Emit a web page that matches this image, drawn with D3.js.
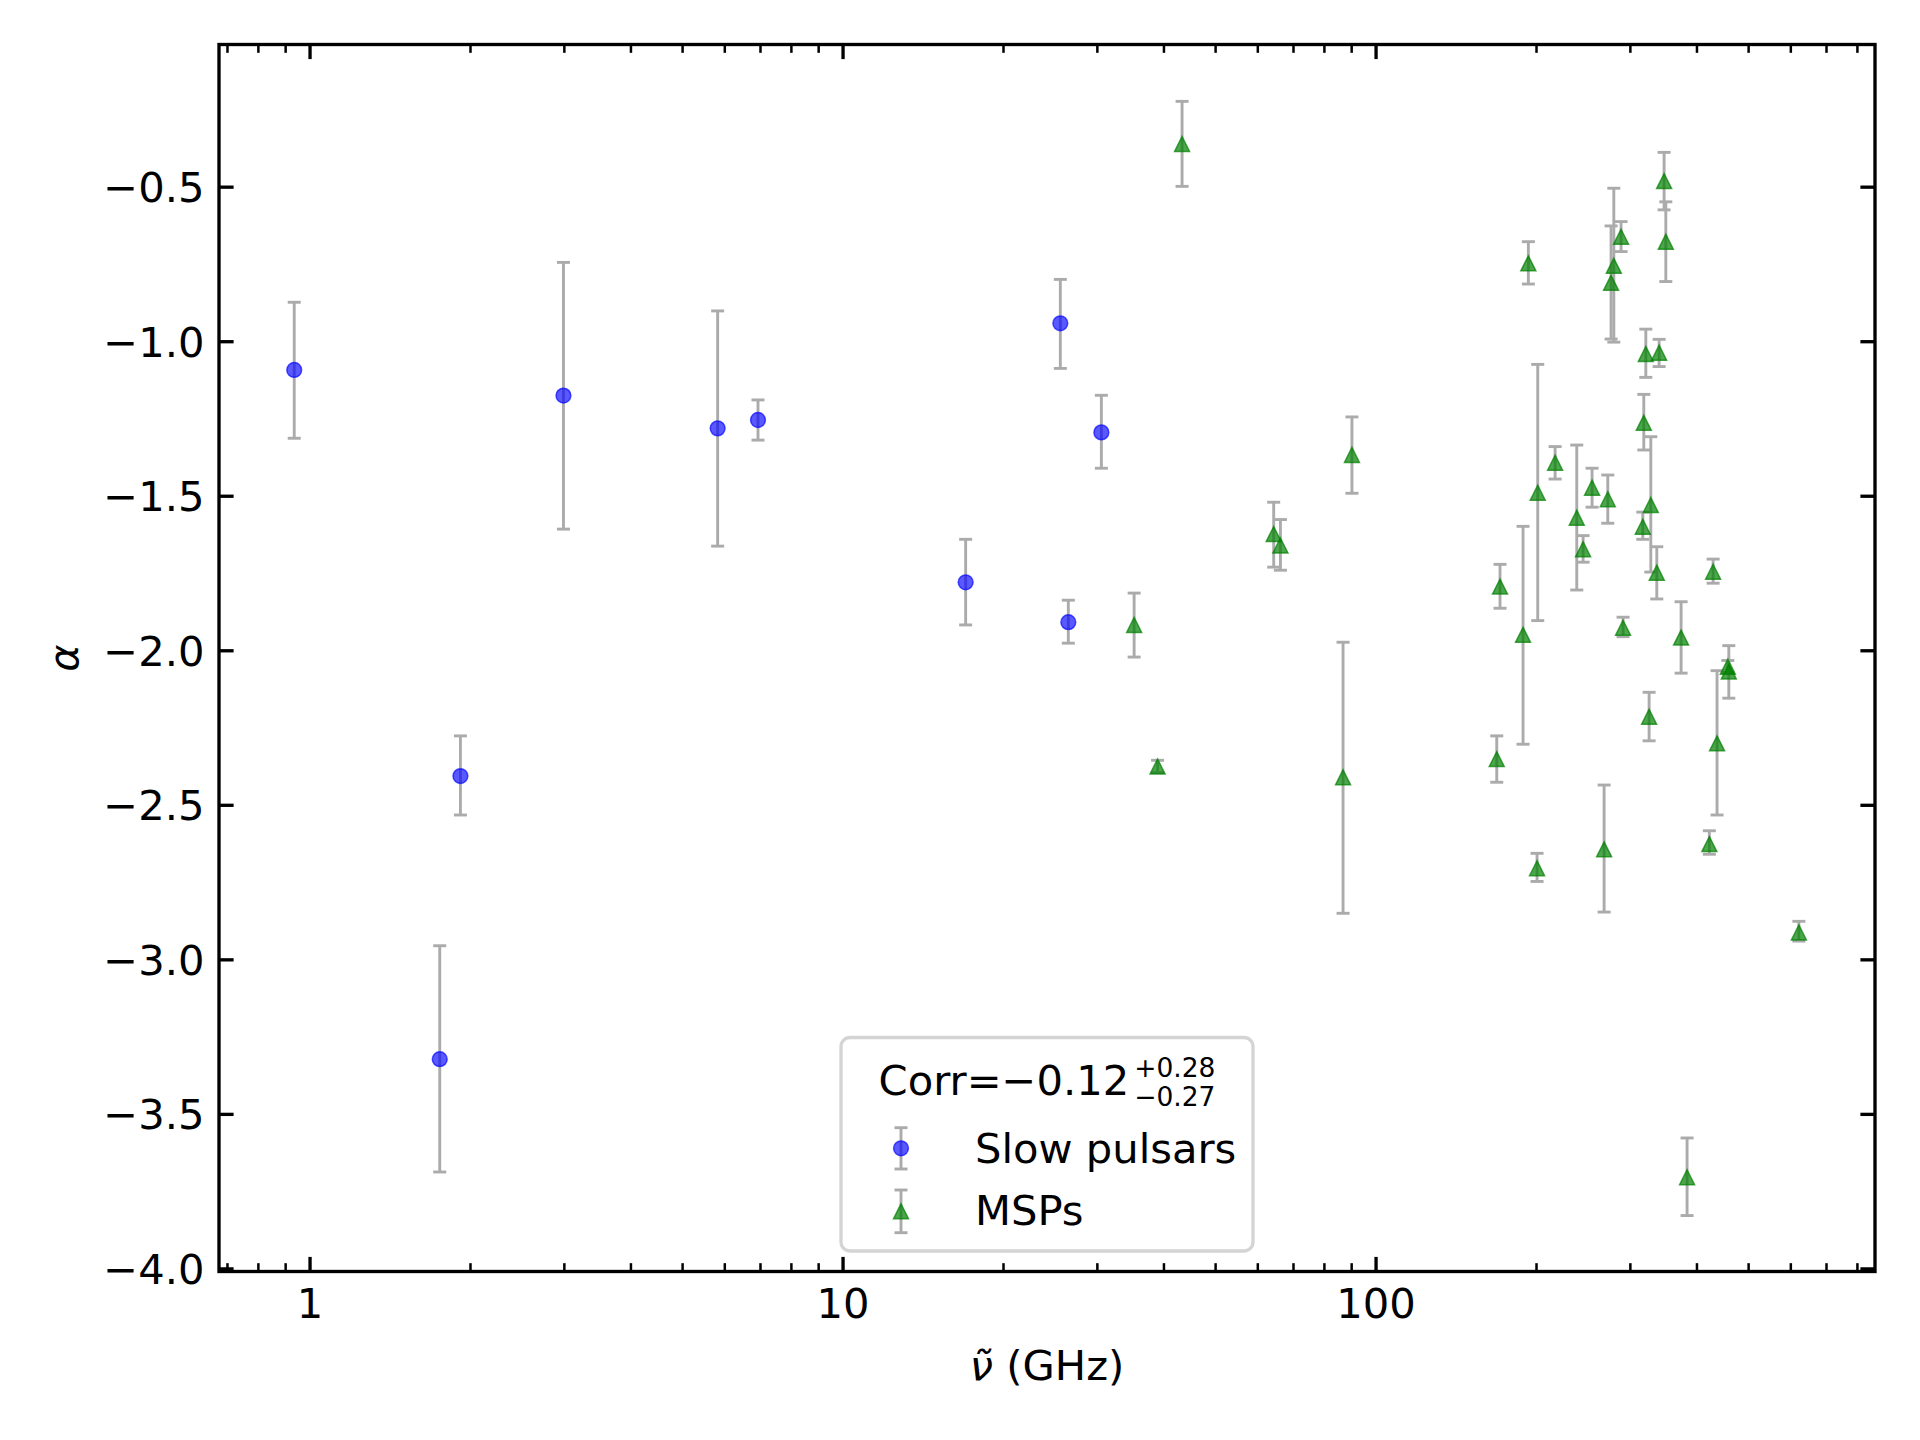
<!DOCTYPE html>
<html><head><meta charset="utf-8">
<script src="https://cdn.jsdelivr.net/npm/d3@7"></script>
<style>
body{margin:0;background:#fff}
svg{display:block}
text{font-family:"DejaVu Sans",sans-serif}
</style>
</head><body>
<svg id="chart" width="1920" height="1440"></svg>
<script>
// ---------------- data ----------------
const slowFreq   = [0.936, 1.755, 1.919, 2.995, 5.83, 6.94, 17.02, 25.62, 26.52, 30.59];
const slowAlpha  = [-1.093, -3.323, -2.407, -1.176, -1.282, -1.255, -1.780, -0.942, -1.909, -1.295];
const slowErrUp  = [0.219, 0.367, 0.130, 0.431, 0.380, 0.065, 0.139, 0.142, 0.071, 0.120];
const slowErrDn  = [0.221, 0.365, 0.126, 0.432, 0.381, 0.065, 0.138, 0.146, 0.068, 0.116];

const mspFreq  = [43.35, 35.24, 39.0, 64.4, 66.3, 86.9, 90.3, 193.5, 347.8, 350.4, 288.8, 279.9, 276.6, 321.4, 340.4, 318.6, 328.4, 317.2, 217.2, 201.5, 238.5, 254.8, 272.7, 245.1, 337.0, 171.2, 189.1, 291.3, 374.3, 429.8, 458, 460, 437.2, 326.0, 168.8, 422.9, 200.9, 268.4, 622.6, 384.1];
const mspAlpha = [-0.362, -1.918, -2.376, -1.624, -1.661, -2.411, -1.368, -0.748, -0.482, -0.678, -0.662, -0.756, -0.811, -1.041, -1.037, -1.264, -1.530, -1.600, -1.393, -1.490, -1.571, -1.474, -1.511, -1.673, -1.749, -1.794, -1.950, -1.927, -1.959, -1.746, -2.053, -2.069, -2.301, -2.215, -2.352, -2.627, -2.705, -2.644, -2.913, -3.705];
const mspErrUp = [0.138, 0.103, 0.020, 0.103, 0.084, 0.437, 0.123, 0.070, 0.093, 0.129, 0.049, 0.251, 0.184, 0.080, 0.043, 0.092, 0.221, 0.047, 0.052, 0.415, 0.235, 0.063, 0.078, 0.044, 0.084, 0.072, 0.351, 0.034, 0.116, 0.041, 0.020, 0.084, 0.235, 0.079, 0.075, 0.043, 0.048, 0.208, 0.036, 0.127];
const mspErrDn = [0.137, 0.104, 0.020, 0.107, 0.080, 0.440, 0.124, 0.067, 0.093, 0.129, 0.048, 0.247, 0.182, 0.076, 0.045, 0.088, 0.217, 0.041, 0.053, 0.414, 0.234, 0.063, 0.078, 0.042, 0.085, 0.070, 0.354, 0.029, 0.115, 0.037, 0.019, 0.086, 0.232, 0.078, 0.075, 0.033, 0.043, 0.203, 0.028, 0.124];

const seriesNames = ["Slow pulsars", "MSPs"];
const xTicks = [1, 10, 100];
const xTickLabels = ["1", "10", "100"];
const xMinorTicks = [0.7, 0.8, 0.9, 2, 3, 4, 5, 6, 7, 8, 9, 20, 30, 40, 50, 60, 70, 80, 90, 200, 300, 400, 500, 600, 700, 800];
const yTicks = [-4.0, -3.5, -3.0, -2.5, -2.0, -1.5, -1.0, -0.5];
const xLimits = [0.6763, 865.0];
const yLimits = [-4.01, -0.04];
const corrMain = "Corr=\u22120.12", corrSup = "+0.28", corrSub = "\u22120.27";

// ---------------- layout ----------------
const L = 219, R = 1875, T = 44.5, B = 1271.5;
const FS = 41.67;
const MAJ = 14.6, MIN = 8.33, MAJW = 3.33, MINW = 2.5;

const svg = d3.select("#chart");
svg.append("rect").attr("width", 1920).attr("height", 1440).attr("fill", "#fff");

const x = d3.scaleLog().domain(xLimits).range([L, R]);
const y = d3.scaleLinear().domain(yLimits).range([B, T]);

function styleAxis(g, w, labels) {
  g.attr("font-family", null).attr("font-size", null);
  g.select(".domain").remove();
  g.selectAll(".tick line").attr("stroke", "#000").attr("stroke-width", w);
  g.selectAll(".tick text").attr("fill", "#000").style("font-size", FS + "px")
    .style("font-family", '"DejaVu Sans", sans-serif');
  if (!labels) g.selectAll(".tick text").remove();
}

// bottom
svg.append("g").attr("transform", `translate(0,${B})`)
  .call(d3.axisBottom(x).tickValues(xMinorTicks).tickFormat("").tickSizeInner(-MIN).tickSizeOuter(0))
  .call(g => styleAxis(g, MINW, false));
const bx = svg.append("g").attr("transform", `translate(0,${B})`)
  .call(d3.axisBottom(x).tickValues(xTicks).tickFormat((d, i) => xTickLabels[i]).tickSizeInner(-MAJ).tickSizeOuter(0).tickPadding(MAJ))
  .call(g => styleAxis(g, MAJW, true));
bx.selectAll(".tick text").attr("dy", "0.77em");
// top
svg.append("g").attr("transform", `translate(0,${T})`)
  .call(d3.axisTop(x).tickValues(xMinorTicks).tickFormat("").tickSizeInner(-MIN).tickSizeOuter(0))
  .call(g => styleAxis(g, MINW, false));
svg.append("g").attr("transform", `translate(0,${T})`)
  .call(d3.axisTop(x).tickValues(xTicks).tickFormat("").tickSizeInner(-MAJ).tickSizeOuter(0))
  .call(g => styleAxis(g, MAJW, false));
// left
const ly = svg.append("g").attr("transform", `translate(${L},0)`)
  .call(d3.axisLeft(y).tickValues(yTicks).tickFormat(d3.format(".1f")).tickSizeInner(-MAJ).tickSizeOuter(0).tickPadding(MAJ))
  .call(g => styleAxis(g, MAJW, true));
ly.selectAll(".tick text").attr("dy", "0.36em");
// right
svg.append("g").attr("transform", `translate(${R},0)`)
  .call(d3.axisRight(y).tickValues(yTicks).tickFormat("").tickSizeInner(-MAJ).tickSizeOuter(0))
  .call(g => styleAxis(g, MAJW, false));

// frame
svg.append("rect").attr("x", L).attr("y", T).attr("width", R - L).attr("height", B - T)
  .attr("fill", "none").attr("stroke", "#000").attr("stroke-width", MAJW);

// axis labels
svg.append("text").attr("transform", `translate(78,${(T + B) / 2}) rotate(-90)`)
  .attr("text-anchor", "middle").style("font-size", FS + "px").style("font-style", "italic").text("\u03b1");
const xl = svg.append("text").attr("x", (L + R) / 2).attr("y", 1380).attr("text-anchor", "middle").style("font-size", FS + "px");
xl.append("tspan").style("font-style", "italic").text("\u03bd\u0303");
xl.append("tspan").text(" (GHz)");

// ---------------- marks ----------------
const ERR = "#ababab", EW = 2.9, CAP = 6.5;
const plot = svg.append("g");
function errorbars(g, fx, fy, up, dn) {
  const d = fx.map((f, i) => ({ x: x(f), y1: y(fy[i] + up[i]), y2: y(fy[i] - dn[i]) }));
  const eg = g.append("g").attr("stroke", ERR).attr("stroke-width", EW);
  eg.selectAll(".v").data(d).join("line").attr("x1", e => e.x).attr("x2", e => e.x).attr("y1", e => e.y1).attr("y2", e => e.y2);
  eg.selectAll(".c1").data(d).join("line").attr("x1", e => e.x - CAP).attr("x2", e => e.x + CAP).attr("y1", e => e.y1).attr("y2", e => e.y1);
  eg.selectAll(".c2").data(d).join("line").attr("x1", e => e.x - CAP).attr("x2", e => e.x + CAP).attr("y1", e => e.y2).attr("y2", e => e.y2);
}
const TRI = "M0,-7.5L7.5,7.5L-7.5,7.5Z";

errorbars(plot, slowFreq, slowAlpha, slowErrUp, slowErrDn);
plot.append("g").selectAll("circle").data(slowFreq).join("circle")
  .attr("cx", d => x(d)).attr("cy", (d, i) => y(slowAlpha[i])).attr("r", 7.4)
  .attr("fill", "blue").attr("fill-opacity", 0.65)
  .attr("stroke", "blue").attr("stroke-opacity", 0.65).attr("stroke-width", 1.5);

errorbars(plot, mspFreq, mspAlpha, mspErrUp, mspErrDn);
plot.append("g").selectAll("path").data(mspFreq).join("path")
  .attr("transform", (d, i) => `translate(${x(d)},${y(mspAlpha[i])})`).attr("d", TRI)
  .attr("fill", "green").attr("fill-opacity", 0.7)
  .attr("stroke", "green").attr("stroke-opacity", 0.7).attr("stroke-width", 1.5);

// ---------------- legend ----------------
const lg = svg.append("g");
lg.append("rect").attr("x", 841).attr("y", 1037.5).attr("width", 412).attr("height", 213.5).attr("rx", 9)
  .attr("fill", "#fff").attr("fill-opacity", 0.8).attr("stroke", "#d4d4d4").attr("stroke-width", 3.3);
const t1 = lg.append("text").attr("x", 878.6).attr("y", 1095).style("font-size", FS + "px").text(corrMain);
const w1 = t1.node().getComputedTextLength();
const SFS = 26.5;
lg.append("text").attr("x", 878.6 + w1 + 5).attr("y", 1077).style("font-size", SFS + "px").text(corrSup);
lg.append("text").attr("x", 878.6 + w1 + 5).attr("y", 1106).style("font-size", SFS + "px").text(corrSub);

function legendBar(cy, top, bot) {
  const g = lg.append("g").attr("stroke", ERR).attr("stroke-width", EW);
  g.append("line").attr("x1", 901).attr("x2", 901).attr("y1", top).attr("y2", bot);
  g.append("line").attr("x1", 901 - CAP).attr("x2", 901 + CAP).attr("y1", top).attr("y2", top);
  g.append("line").attr("x1", 901 - CAP).attr("x2", 901 + CAP).attr("y1", bot).attr("y2", bot);
}
legendBar(1148.3, 1127.7, 1169);
lg.append("circle").attr("cx", 901).attr("cy", 1148.3).attr("r", 7.4)
  .attr("fill", "blue").attr("fill-opacity", 0.65).attr("stroke", "blue").attr("stroke-opacity", 0.65).attr("stroke-width", 1.5);
legendBar(1211.3, 1190, 1232.7);
lg.append("path").attr("transform", "translate(901,1211.3)").attr("d", TRI)
  .attr("fill", "green").attr("fill-opacity", 0.7).attr("stroke", "green").attr("stroke-opacity", 0.7).attr("stroke-width", 1.5);
lg.append("text").attr("x", 975).attr("y", 1163.3).style("font-size", FS + "px").text(seriesNames[0]);
lg.append("text").attr("x", 975).attr("y", 1225).style("font-size", FS + "px").text(seriesNames[1]);
</script>
</body></html>
